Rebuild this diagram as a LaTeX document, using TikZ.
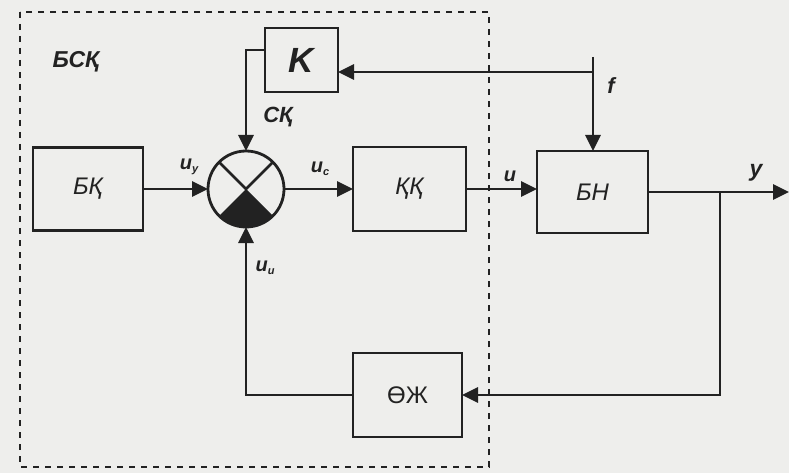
\documentclass[tikz,border=0pt]{standalone}
\usepackage{fontspec}
\setmainfont{Liberation Sans}
\usetikzlibrary{arrows.meta}
\definecolor{ink}{HTML}{222222}
\definecolor{paper}{HTML}{EEEEEC}
\begin{document}
\begin{tikzpicture}[x=1pt,y=-1pt,
  ln/.style={line width=2.8pt, draw=ink},
  arr/.style={ln, -{Triangle[length=16pt,width=15pt]}},
  blk/.style={ln, rectangle, inner sep=0pt, outer sep=0pt, text=ink,
    font=\fontsize{24}{24}\selectfont\itshape},
  lbl/.style={inner sep=0pt, text=ink, font=\fontsize{20}{20}\selectfont\bfseries\itshape}]
\fill[paper] (0,0) rectangle (789,473);
\useasboundingbox (0,0) rectangle (789,473);
% dashed frame
\draw[line width=2.8pt, draw=ink, dash pattern=on 6pt off 6pt] (20,12) rectangle (489,467);
% blocks
\node[blk, minimum width=73pt, minimum height=64pt, font=\fontsize{35}{35}\selectfont\bfseries\itshape] (k) at (301.5,60) {K};
\node[blk, minimum width=110pt, minimum height=83pt] (bk) at (88,189) {БҚ};
\node[blk, minimum width=113pt, minimum height=84pt] (kk) at (409.5,189) {ҚҚ};
\node[blk, minimum width=111pt, minimum height=82pt] (bn) at (592.5,192) {БН};
\node[blk, minimum width=109pt, minimum height=84pt, font=\fontsize{24}{24}\selectfont] (oj) at (407.5,395) {ӨЖ};
% summing junction
\node[ln, circle, minimum size=76pt, inner sep=0pt, outer sep=0pt] (sum) at (246,189) {};
\fill[ink] (sum.center) -- (sum.225) arc[start angle=225, end angle=315, radius=38pt] -- cycle;
\draw[ln] (sum.135) -- (sum.center) -- (sum.45);
% coordinates
\coordinate (kout) at (265,50);
\coordinate (ftop) at (593,57);
\coordinate (fj) at (593,72);
\coordinate (yout) at (789,192);
\coordinate (br) at (720,192);
% connectors
\draw[arr] (kout) -| (sum.north);
\draw[arr] (bk.east) -- (sum.west);
\draw[arr] (sum.east) -- (kk.west);
\draw[arr] (kk.east) -- (kk.east -| bn.west);
\draw[arr] (bn.east) -- (yout);
\draw[arr] (fj) -- (k.east |- fj);
\draw[arr] (ftop) -- (bn.north -| ftop);
\draw[arr] (br) |- (oj.east);
\draw[arr] (oj.west) -| (sum.south);
% labels
\node[lbl, font=\fontsize{23}{23}\selectfont\bfseries\itshape] (lbsk) at (76,62) {БСҚ};
\node[lbl, font=\fontsize{22}{22}\selectfont\bfseries\itshape] (lsk) at (278,117) {СҚ};
\node[lbl] (luy) at (189,167) {u\raisebox{-3pt}{\fontsize{11}{11}\selectfont y}};
\node[lbl] (luc) at (320,169) {u\raisebox{-3pt}{\fontsize{11}{11}\selectfont c}};
\node[lbl] (lui) at (265,268) {u\raisebox{-3pt}{\fontsize{11}{11}\selectfont u}};
\node[lbl] (lu) at (510,176) {u};
\node[lbl, font=\fontsize{22}{22}\selectfont\bfseries\itshape] (lf) at (611,86) {f};
\node[lbl, font=\fontsize{23}{23}\selectfont\bfseries\itshape] (ly) at (756,173) {y};
\end{tikzpicture}
\end{document}
